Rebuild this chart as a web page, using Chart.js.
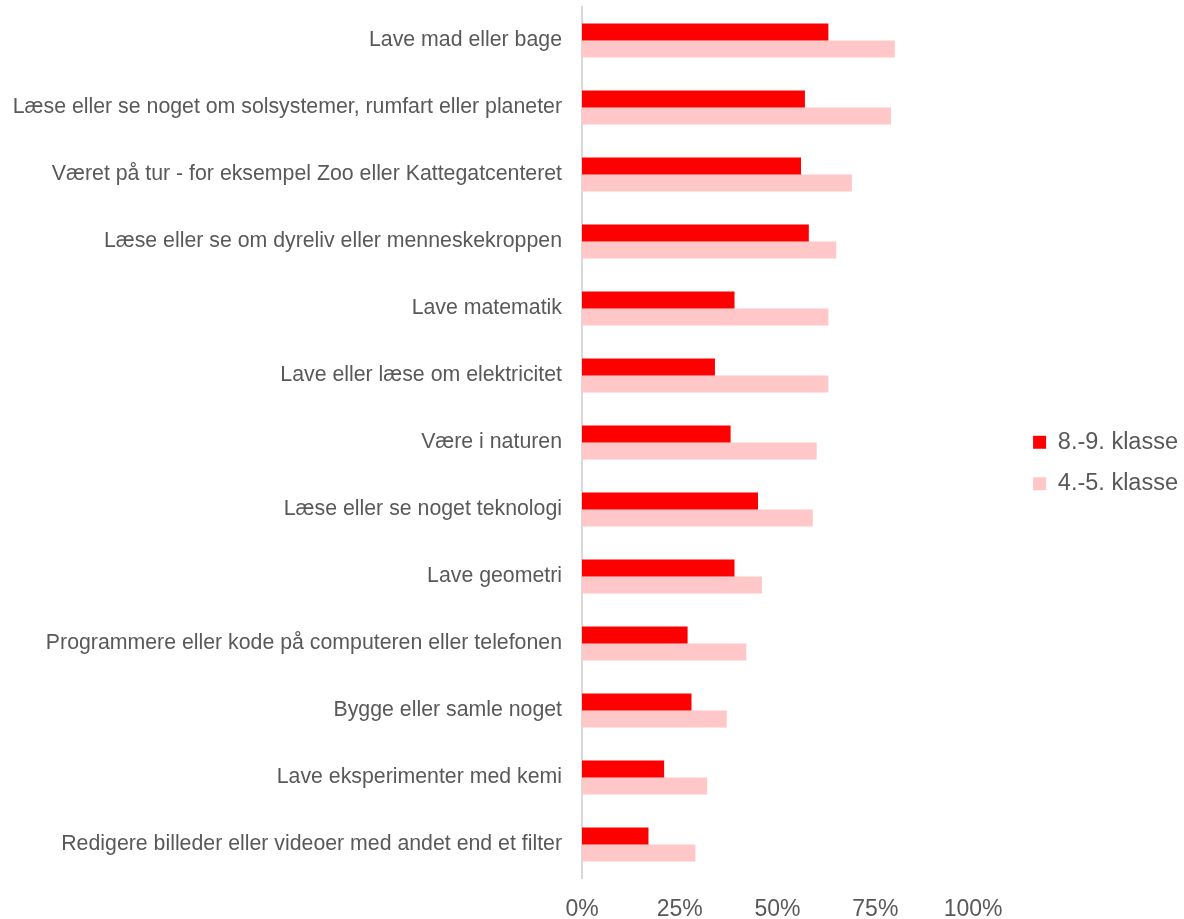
<!DOCTYPE html>
<html>
<head>
<meta charset="utf-8">
<script src="https://cdn.jsdelivr.net/npm/chart.js@4"></script>
<style>
  html, body { margin: 0; padding: 0; background: #fff; }
  #wrap { width: 1184px; height: 919px; position: relative; }
</style>
</head>
<body>
<div id="wrap"><canvas id="chart"></canvas></div>
<script>
"use strict";

// categories, top to bottom
var categories = [
  "Lave mad eller bage",
  "Læse eller se noget om solsystemer, rumfart eller planeter",
  "Været på tur - for eksempel Zoo eller Kattegatcenteret",
  "Læse eller se om dyreliv eller menneskekroppen",
  "Lave matematik",
  "Lave eller læse om elektricitet",
  "Være i naturen",
  "Læse eller se noget teknologi",
  "Lave geometri",
  "Programmere eller kode på computeren eller telefonen",
  "Bygge eller samle noget",
  "Lave eksperimenter med kemi",
  "Redigere billeder eller videoer med andet end et filter"
];

var seriesNames = ["8.-9. klasse", "4.-5. klasse"];

// percent values
var klasse89 = [63, 57, 56, 58, 39, 34, 38, 45, 39, 27, 28, 21, 17];
var klasse45 = [80, 79, 69, 65, 63, 63, 60, 59, 46, 42, 37, 32, 29];

var xTicks = [0, 25, 50, 75, 100];

var textColor = "#595959";
var fontFamily = "'Liberation Sans', Arial, sans-serif";

var ctx = document.getElementById("chart");

new Chart(ctx, {
  type: "bar",
  data: {
    labels: categories,
    datasets: [
      {
        label: seriesNames[0],
        data: klasse89,
        backgroundColor: "#FF0000",
        borderWidth: 0
      },
      {
        label: seriesNames[1],
        data: klasse45,
        backgroundColor: "#FFC7C7",
        borderWidth: 0
      }
    ]
  },
  options: {
    indexAxis: "y",
    responsive: true,
    maintainAspectRatio: false,
    animation: false,
    layout: {
      padding: { top: 7, right: -4, bottom: 0, left: 0 }
    },
    datasets: {
      bar: {
        barPercentage: 1,
        categoryPercentage: 0.51
      }
    },
    scales: {
      x: {
        min: 0,
        max: 100,
        afterBuildTicks: function(axis) {
          axis.ticks = xTicks.map(function(v) { return { value: v }; });
        },
        afterFit: function(axis) {
          axis.height = 41;
          axis.paddingLeft = 0;
          axis.paddingRight = 0;
        },
        grid: { display: false, drawTicks: false },
        border: { display: false },
        ticks: {
          color: textColor,
          font: { family: fontFamily, size: 23 },
          padding: 18,
          maxRotation: 0,
          callback: function(v) { return v + "%"; }
        }
      },
      y: {
        afterFit: function(axis) {
          axis.width = 582;
          axis.paddingTop = 0;
          axis.paddingBottom = 0;
        },
        grid: { display: false, drawTicks: false },
        border: { display: true, color: "#D9D9D9", width: 2 },
        ticks: {
          color: textColor,
          font: { family: fontFamily, size: 21.3 },
          padding: 20
        }
      },
      // empty spacer between plot and legend
      gap: {
        type: "linear",
        position: "right",
        display: true,
        afterFit: function(axis) {
          axis.width = 42;
          axis.paddingTop = 0;
          axis.paddingBottom = 0;
        },
        grid: { display: false, drawTicks: false },
        border: { display: false },
        ticks: { display: false }
      }
    },
    plugins: {
      legend: {
        position: "right",
        labels: {
          color: textColor,
          font: { family: fontFamily, size: 23.5 },
          boxWidth: 13,
          boxHeight: 13,
          padding: 18
        }
      },
      tooltip: { enabled: false }
    }
  }
});
</script>
</body>
</html>
